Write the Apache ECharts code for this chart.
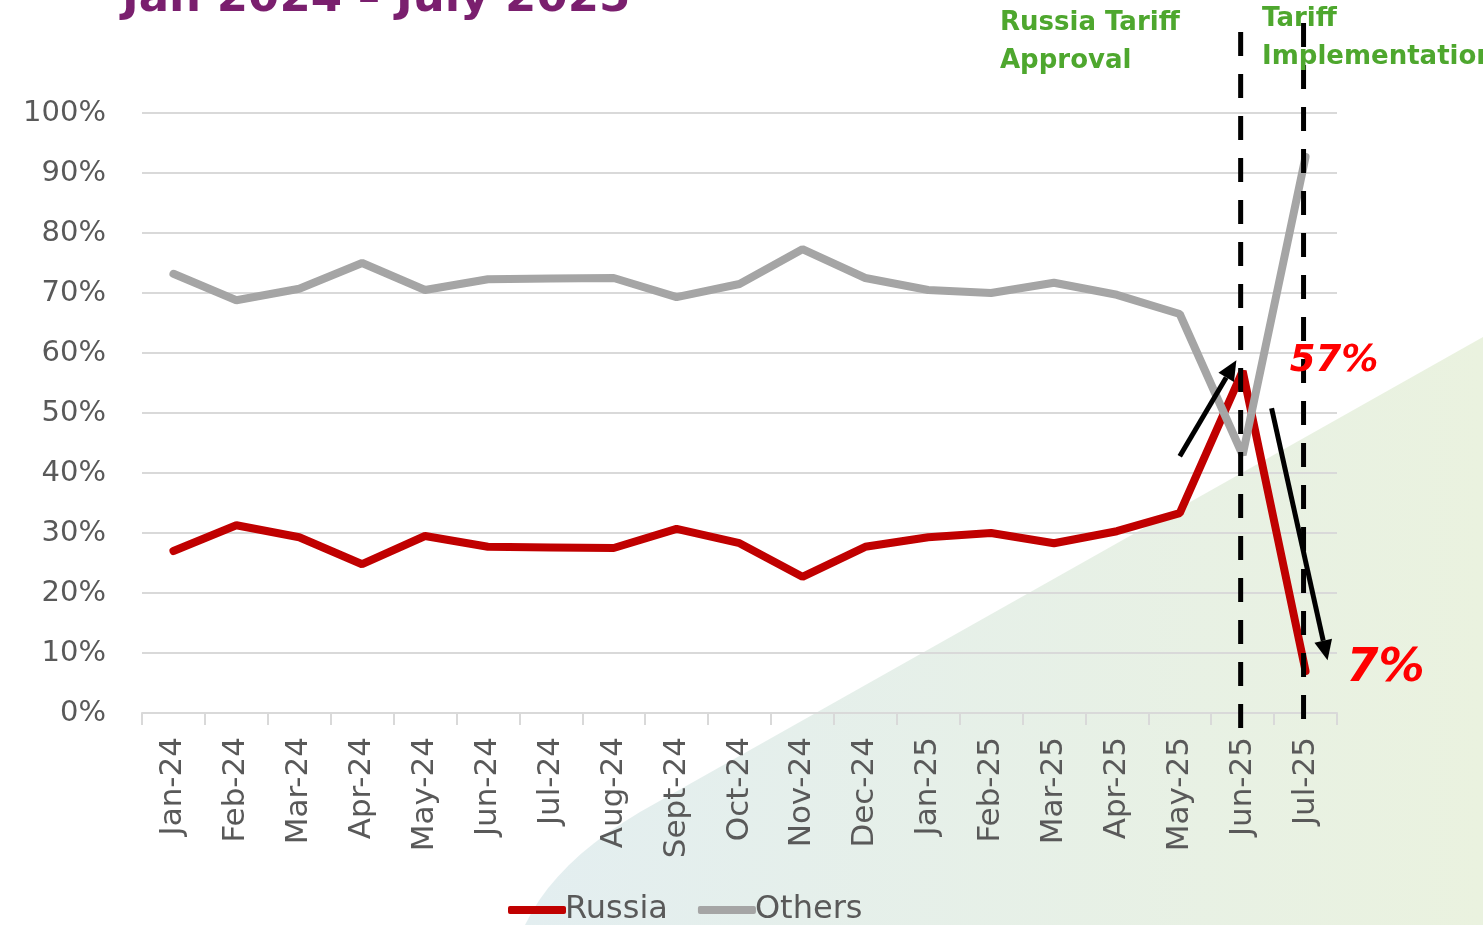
<!DOCTYPE html>
<html>
<head>
<meta charset="utf-8">
<style>
  html, body { margin: 0; padding: 0; background: #fff; }
  #chart { width: 1483px; height: 925px; }
</style>
<script src="https://cdn.jsdelivr.net/npm/echarts@6/dist/echarts.min.js"></script>
</head>
<body>
<div id="chart"></div>
<script>
// months on the x axis
var months = ['Jan-24', 'Feb-24', 'Mar-24', 'Apr-24', 'May-24', 'Jun-24', 'Jul-24', 'Aug-24', 'Sept-24', 'Oct-24',
  'Nov-24', 'Dec-24', 'Jan-25', 'Feb-25', 'Mar-25', 'Apr-25', 'May-25', 'Jun-25', 'Jul-25'];
// share of imports, in %
var russia = [27.0, 31.3, 29.3, 24.8, 29.5, 27.7, 27.6, 27.5, 30.7, 28.3, 22.7, 27.7, 29.3, 30.0, 28.3, 30.3, 33.3, 57.0, 7.0];
var others = [73.2, 68.8, 70.7, 75.0, 70.5, 72.3, 72.4, 72.5, 69.3, 71.5, 77.3, 72.5, 70.5, 70.0, 71.7, 69.7, 66.5, 43.0, 92.7];
var yTicks = [0, 10, 20, 30, 40, 50, 60, 70, 80, 90, 100];

var grey = '#595959';
var fontFam = '"DejaVu Sans", sans-serif';

var chart = echarts.init(document.getElementById('chart'));

var option = {
  backgroundColor: '#fff',
  animation: false,
  grid: { left: 142, right: 146, top: 113, bottom: 212 },
  legend: {
    bottom: -6,
    left: 503,
    icon: 'roundRect',
    itemWidth: 58,
    itemHeight: 8,
    itemGap: 30,
    textStyle: { color: grey, fontSize: 32, fontFamily: fontFam, padding: [0, 0, 0, -6] },
    data: ['Russia', 'Others']
  },
  xAxis: {
    type: 'category',
    data: months,
    boundaryGap: true,
    axisLine: { lineStyle: { color: '#d9d9d9', width: 2 } },
    axisTick: { show: true, length: 12, lineStyle: { color: '#d9d9d9', width: 2 } },
    axisLabel: { rotate: 90, interval: 0, color: grey, fontSize: 31, fontFamily: fontFam, margin: 24 }
  },
  yAxis: {
    type: 'value',
    min: 0,
    max: 100,
    interval: 10,
    axisLine: { show: false },
    axisTick: { show: false },
    splitLine: { lineStyle: { color: '#d9d9d9', width: 2 } },
    axisLabel: {
      color: grey, fontSize: 29, fontFamily: fontFam, margin: 36,
      formatter: function (v) { return yTicks.indexOf(v) >= 0 ? v + '%' : ''; }
    }
  },
  series: [
    {
      name: 'Russia', type: 'line', data: russia, symbol: 'none',
      lineStyle: { color: '#C00000', width: 8, cap: 'round' }, itemStyle: { color: '#C00000' }, z: 2
    },
    {
      name: 'Others', type: 'line', data: others, symbol: 'none',
      lineStyle: { color: '#A5A5A5', width: 8, cap: 'round' }, itemStyle: { color: '#A5A5A5' }, z: 3
    }
  ]
};
chart.setOption(option);

// positions of annotations from the axes
function px(idx, val) {
  var a = chart.convertToPixel({ gridIndex: 0 }, [0, val]);
  var b = chart.convertToPixel({ gridIndex: 0 }, [1, val]);
  return [a[0] + (b[0] - a[0]) * idx, a[1]];
}

function arrow(from, to) {
  var dx = to[0] - from[0], dy = to[1] - from[1];
  var len = Math.sqrt(dx * dx + dy * dy);
  var ux = dx / len, uy = dy / len;
  var hl = 20, hw = 9;
  var base = [to[0] - ux * hl, to[1] - uy * hl];
  return [
    { type: 'line', shape: { x1: from[0], y1: from[1], x2: base[0], y2: base[1] },
      style: { stroke: '#000', lineWidth: 5 }, z: 20 },
    { type: 'polygon', shape: { points: [to, [base[0] - uy * hw, base[1] + ux * hw], [base[0] + uy * hw, base[1] - ux * hw]] },
      style: { fill: '#000' }, z: 20 }
  ];
}

// background wedge outline (decoration), rounded corner at bottom left
var wedge = [[1483, 337], [640, 812]];
for (var t = 0.1; t <= 1.0001; t += 0.1) {
  var u = 1 - t;
  wedge.push([u * u * 640 + 2 * u * t * 555 + t * t * 525, u * u * 812 + 2 * u * t * 862 + t * t * 925]);
}
wedge.push([1483, 925]);

var jun = px(17, russia[17]), jul = px(18, russia[18]);
var graphics = [
  {
    type: 'polygon', z: -10, silent: true,
    shape: { points: wedge },
    style: {
      fill: { type: 'linear', x: 0, y: 0, x2: 1, y2: 0,
        colorStops: [{ offset: 0, color: '#E3EEF0' }, { offset: 1, color: '#EAF2DF' }] }
    }
  },
  // title (cut at top)
  {
    type: 'text', x: 122, y: 22, z: 30,
    style: { text: 'Jan 2024 – July 2025', fill: '#7A1F6E', fontSize: 45, fontWeight: 'bold', fontFamily: fontFam,
      verticalAlign: 'bottom' }
  },
  {
    type: 'text', x: 1000, y: 4, z: 30,
    style: { text: 'Russia Tariff\nApproval', fill: '#4EA72E', fontSize: 26, fontWeight: 'bold', lineHeight: 38,
      fontFamily: fontFam }
  },
  {
    type: 'text', x: 1262, y: 0, z: 30,
    style: { text: 'Tariff\nImplementation', fill: '#4EA72E', fontSize: 26, fontWeight: 'bold', lineHeight: 38,
      fontFamily: fontFam }
  },
  {
    type: 'text', x: jun[0] + 47, y: jun[1] - 10, z: 30,
    style: { text: russia[17] + '%', fill: '#FF0000', fontSize: 37, fontWeight: 'bold', fontStyle: 'italic',
      fontFamily: fontFam, verticalAlign: 'middle' }
  },
  {
    type: 'text', x: jul[0] + 41, y: jul[1] - 2, z: 30,
    style: { text: russia[18] + '%', fill: '#FF0000', fontSize: 46, fontWeight: 'bold', fontStyle: 'italic',
      fontFamily: fontFam, verticalAlign: 'middle' }
  },
  {
    type: 'line', z: 25, shape: { x1: jun[0] - 2, y1: 32, x2: jun[0] - 2, y2: 728 },
    style: { stroke: '#000', lineWidth: 5, lineDash: [24, 18] }
  },
  {
    type: 'line', z: 25, shape: { x1: jul[0] - 2, y1: 23, x2: jul[0] - 2, y2: 720 },
    style: { stroke: '#000', lineWidth: 5, lineDash: [24, 18] }
  }
];
graphics = graphics.concat(arrow(px(16.0, 42.8), px(16.9, 58.8)));
graphics = graphics.concat(arrow(px(17.46, 50.8), px(18.35, 8.8)));

chart.setOption({ graphic: graphics });
</script>
</body>
</html>
